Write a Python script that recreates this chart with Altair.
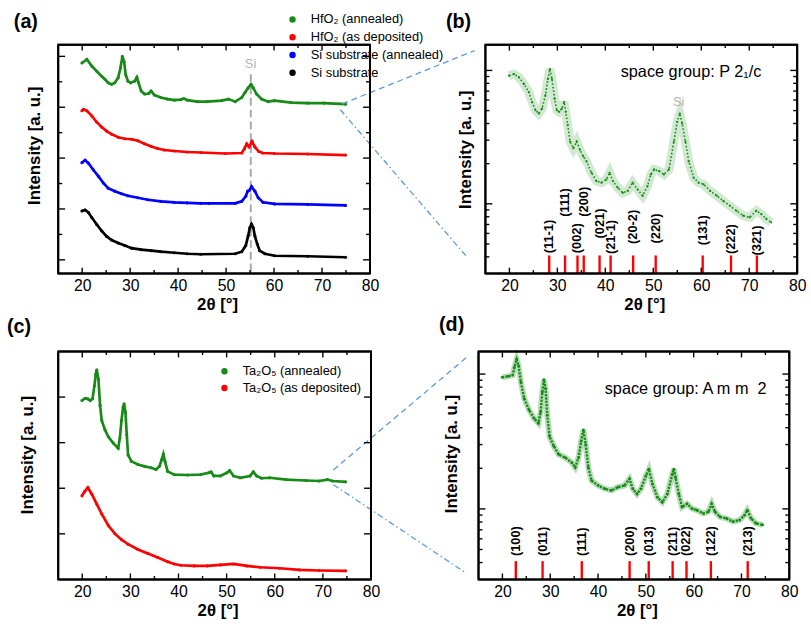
import math
import altair as alt
import pandas as pd

FONT = "Liberation Sans"
GREEN = "#178a17"
RED = "#ff0000"
BLUE = "#0000ff"
BLACK = "#000000"
CONN = "#5b9bd5"
GRAY = "#b4b4b4"

# ---------------- panel (a): HfO2 / Si, stacked linear intensities ----------------
A_GREEN_X = [19.94, 20.97, 22.0, 23.0, 24.06, 24.74, 25.43, 26.12, 26.8, 27.5, 27.97, 28.38, 28.73, 29.07,
             29.55, 30.1, 30.93, 31.4, 31.75, 32.3, 32.99, 33.88, 34.36, 35.05, 36.4, 37.8, 39.2, 40.55,
             41.2, 41.9, 44.0, 46.0, 49.1, 50.5, 51.9, 53.26, 53.95, 54.6, 55.2, 55.67, 56.35, 57.4, 58.76,
             60.1, 63.6, 67.0, 70.45, 74.9]
A_GREEN_Y = [3.87, 3.94, 3.81, 3.71, 3.61, 3.55, 3.48, 3.45, 3.48, 3.58, 3.77, 4.00, 3.90, 3.64,
             3.51, 3.48, 3.51, 3.59, 3.48, 3.32, 3.26, 3.27, 3.32, 3.24, 3.19, 3.16, 3.14, 3.15,
             3.17, 3.14, 3.11, 3.11, 3.13, 3.16, 3.11, 3.19, 3.29, 3.38, 3.45, 3.38, 3.26, 3.16, 3.11,
             3.13, 3.09, 3.08, 3.08, 3.06]
A_RED_X = [19.94, 20.3, 20.97, 22.0, 23.0, 24.06, 25.1, 26.12, 27.5, 28.9, 30.3, 31.6, 33.0, 34.4, 35.7,
           37.1, 39.2, 41.9, 44.7, 49.8, 53.26, 53.8, 54.3, 54.8, 55.4, 56.0, 56.8, 57.6, 60.1, 67.0, 74.9]
A_RED_Y = [2.93, 2.96, 2.93, 2.83, 2.71, 2.61, 2.53, 2.47, 2.41, 2.38, 2.37, 2.34, 2.28, 2.23, 2.19,
           2.16, 2.14, 2.12, 2.11, 2.09, 2.10, 2.18, 2.28, 2.22, 2.33, 2.22, 2.13, 2.10, 2.09, 2.08, 2.06]
A_BLUE_X = [19.94, 20.6, 21.3, 22.3, 23.4, 24.4, 25.4, 26.8, 28.2, 29.5, 31.6, 33.7, 36.4, 39.2, 41.9,
            44.7, 46.4, 51.9, 53.26, 54.1, 54.5, 54.9, 55.3, 56.0, 56.7, 57.7, 60.1, 67.0, 74.9]
A_BLUE_Y = [1.91, 1.96, 1.90, 1.77, 1.64, 1.51, 1.41, 1.35, 1.30, 1.26, 1.22, 1.18, 1.15, 1.13, 1.12,
            1.11, 1.11, 1.11, 1.15, 1.25, 1.35, 1.37, 1.44, 1.35, 1.22, 1.13, 1.10, 1.09, 1.07]
A_BLACK_X = [19.94, 20.6, 21.3, 22.0, 23.0, 24.06, 25.1, 26.12, 27.5, 28.9, 30.3, 32.3, 34.4, 36.4, 39.2,
             41.9, 44.7, 51.9, 53.26, 54.1, 54.6, 54.95, 55.3, 55.67, 56.0, 56.5, 57.0, 58.1, 60.1, 67.0, 74.9]
A_BLACK_Y = [0.96, 0.98, 0.93, 0.83, 0.70, 0.57, 0.46, 0.39, 0.33, 0.28, 0.23, 0.20, 0.18, 0.16, 0.14,
             0.12, 0.11, 0.12, 0.16, 0.28, 0.47, 0.63, 0.70, 0.63, 0.47, 0.31, 0.18, 0.12, 0.08, 0.07, 0.05]
A_NAMES = ["HfO\u2082 (annealed)", "HfO\u2082 (as deposited)", "Si substrate (annealed)", "Si substrate"]

# ---------------- panel (b): HfO2 annealed, log intensity ----------------
B_X = [19.93, 20.96, 21.99, 23.02, 24.05, 24.74, 25.43, 26.12, 26.8, 27.49, 28.04, 28.45, 28.87, 29.42,
       29.9, 30.38, 30.93, 31.41, 31.75, 32.16, 32.65, 33.33, 34.02, 34.71, 35.4, 36.08, 37.11, 38.14,
       39.18, 40.21, 40.89, 41.58, 42.61, 43.64, 44.67, 45.7, 46.74, 47.77, 48.8, 49.48, 50.17, 51.2,
       52.23, 53.26, 54.3, 54.98, 55.53, 56.01, 56.7, 57.39, 58.42, 59.45, 60.48, 61.86, 63.23, 64.6,
       65.98, 67.35, 68.73, 70.1, 71.48, 72.51, 73.54, 74.57]
B_Y = [9.13, 9.39, 8.87, 7.92, 6.87, 5.79, 5.03, 4.75, 5.17, 6.49, 8.63, 10.23, 8.63, 6.13,
       5.03, 4.89, 5.17, 5.79, 4.89, 3.89, 2.93, 2.61, 2.93, 2.54, 2.27, 2.08, 1.71, 1.48,
       1.44, 1.52, 1.71, 1.48, 1.32, 1.21, 1.25, 1.44, 1.28, 1.15, 1.36, 1.66, 1.81, 1.76,
       1.66, 1.81, 2.93, 4.12, 4.75, 4.00, 2.93, 2.08, 1.57, 1.44, 1.40, 1.25, 1.15, 1.05,
       0.967, 0.887, 0.815, 0.792, 0.887, 0.839, 0.77, 0.727]
B_HKL_POS = [28.3, 31.6, 34.2, 35.5, 38.8, 41.1, 45.8, 50.5, 60.3, 66.2, 71.6]
B_HKL_TXT = ["(11-1)", "(111)", "(002)", "(200)", "(021)", "(21-1)", "(20-2)", "(220)", "(131)", "(222)", "(321)"]
B_HKL_LABEL_Y = [0.426, 0.80, 0.426, 0.80, 0.55, 0.42, 0.50, 0.505, 0.49, 0.42, 0.41]

# ---------------- panel (c): Ta2O5, stacked linear intensities ----------------
C_GREEN_X = [19.93, 20.62, 21.16, 21.64, 22.12, 22.53, 22.81, 23.01, 23.36, 23.7, 24.04, 24.73, 25.41,
             26.44, 27.46, 27.81, 28.15, 28.49, 28.7, 28.97, 29.25, 29.52, 30.21, 31.57, 32.94, 34.31,
             35.34, 36.03, 36.51, 36.85, 37.19, 37.74, 39.11, 41.85, 44.59, 46.3, 46.78, 47.33, 48.7,
             50.07, 50.62, 51.44, 52.81, 54.86, 55.55, 56.23, 57.26, 58.97, 62.4, 66.5, 69.24, 70.96,
             71.99, 74.73]
C_GREEN_Y = [3.925, 3.975, 3.961, 3.925, 3.961, 4.25, 4.50, 4.60, 4.39, 3.82, 3.49, 3.28, 3.13,
             2.99, 2.88, 3.10, 3.49, 3.78, 3.85, 3.67, 3.17, 2.73, 2.59, 2.52, 2.48, 2.45,
             2.41, 2.48, 2.63, 2.75, 2.59, 2.37, 2.30, 2.29, 2.30, 2.34, 2.36, 2.27, 2.27,
             2.34, 2.39, 2.27, 2.23, 2.27, 2.36, 2.27, 2.22, 2.23, 2.19, 2.17, 2.16, 2.19,
             2.16, 2.14]
C_RED_X = [19.93, 20.48, 21.16, 21.99, 23.01, 24.04, 25.41, 26.78, 28.15, 29.52, 31.57, 33.63, 35.68,
           37.74, 39.11, 40.48, 43.22, 45.96, 48.7, 51.44, 54.18, 56.92, 61.03, 65.14, 69.24, 74.73]
C_RED_Y = [1.833, 1.926, 2.013, 1.869, 1.652, 1.436, 1.183, 1.003, 0.873, 0.772, 0.657, 0.570, 0.483,
           0.390, 0.339, 0.310, 0.296, 0.296, 0.318, 0.339, 0.296, 0.267, 0.245, 0.209, 0.195, 0.188]
C_NAMES = ["Ta\u2082O\u2085 (annealed)", "Ta\u2082O\u2085 (as deposited)"]

# ---------------- panel (d): Ta2O5 annealed, log intensity ----------------
D_X = [19.95, 21.12, 22.15, 22.5, 22.98, 23.39, 23.87, 24.56, 25.59, 26.62, 27.52, 28.0, 28.34, 28.69,
       29.03, 29.38, 29.86, 30.75, 31.78, 33.16, 34.54, 35.22, 35.91, 36.46, 36.94, 37.42, 37.97, 38.66,
       40.04, 41.41, 42.79, 44.16, 45.54, 46.57, 47.26, 48.15, 48.98, 50.01, 50.63, 51.39, 52.42, 53.45,
       54.48, 55.52, 55.86, 56.2, 56.89, 57.58, 58.61, 59.64, 60.68, 62.05, 63.08, 63.77, 64.46, 65.49,
       66.86, 68.24, 69.62, 70.65, 71.2, 72.02, 73.05, 74.43]
D_Y = [9.46, 9.62, 9.83, 11.19, 12.87, 11.5, 8.70, 6.57, 5.40, 4.69, 4.32, 5.25, 7.35, 9.09,
       7.77, 4.96, 3.45, 2.92, 2.53, 2.40, 2.20, 2.03, 2.40, 3.17, 3.86, 3.00, 2.03, 1.62,
       1.49, 1.41, 1.37, 1.45, 1.49, 1.67, 1.41, 1.29, 1.41, 1.76, 1.97, 1.53, 1.22, 1.12,
       1.29, 1.80, 1.97, 1.71, 1.29, 1.03, 1.09, 1.006, 0.978, 0.925, 0.951, 1.09, 0.951, 0.874,
       0.85, 0.804, 0.827, 0.899, 0.978, 0.85, 0.781, 0.76]
D_HKL_POS = [22.8, 28.4, 36.6, 46.6, 50.6, 55.6, 58.5, 63.6, 71.3]
D_HKL_TXT = ["(100)", "(011)", "(111)", "(200)", "(013)", "(211)", "(022)", "(122)", "(213)"]
D_HKL_LABEL_Y = [0.447] * 9

X_MAJOR = [20, 30, 40, 50, 60, 70, 80]
X_MINOR = [25, 35, 45, 55, 65, 75]
X_DOMAIN = [15, 80]

ONE = pd.DataFrame({"k": [0]})


def series_df(xs, ys, name):
    return pd.DataFrame({"tt": xs, "I": ys, "series": name})


def carrier(df, xsc, ysc, w, ytitle_xy, xtitle_y):
    """Invisible layer that carries the x tick labels and both axis titles."""
    return alt.Chart(df).mark_point(opacity=0, size=1).encode(
        x=alt.X("tt:Q", scale=xsc, axis=alt.Axis(
            orient="bottom", values=X_MAJOR, ticks=False, domain=False, grid=False,
            labelFontSize=16, labelPadding=4, labelFlush=False, labelOverlap=False,
            labelColor="black", labelFont=FONT,
            title="2\u03b8 [\u00b0]", titleFont=FONT, titleFontSize=17, titleFontWeight="bold",
            titleColor="black", titleX=w / 2 + 3, titleY=xtitle_y, titleAlign="center",
            titleBaseline="middle")),
        y=alt.Y("I:Q", scale=ysc, axis=alt.Axis(
            orient="left", labels=False, ticks=False, domain=False, grid=False,
            title="Intensity [a. u.]", titleFont=FONT, titleFontSize=17, titleFontWeight="bold",
            titleColor="black", titleAngle=270, titleX=ytitle_xy[0], titleY=ytitle_xy[1],
            titleAlign="center", titleBaseline="middle")))


def value_at(ydom, h, px, log):
    """Data value lying px pixels above the bottom of a panel of height h."""
    lo, hi = ydom
    if log:
        return 10 ** (math.log10(lo) + (math.log10(hi) - math.log10(lo)) * px / h)
    return lo + (hi - lo) * px / h


def tick_marks(xsc, ysc, ydom, log, w, h, ymaj, ymin):
    """Inward ticks on all four sides plus the box frame, all placed through the panel's scales."""
    out = []
    ylo, yhi = ydom
    for vals, ln in ((X_MAJOR, 6), (X_MINOR, 3.5)):
        d = pd.DataFrame({"v": vals * 2,
                          "y1": [ylo] * len(vals) + [yhi] * len(vals),
                          "y2": [value_at(ydom, h, ln, log)] * len(vals)
                                + [value_at(ydom, h, h - ln, log)] * len(vals)})
        out.append(alt.Chart(d).mark_rule(color="black", strokeWidth=1.4, clip=False).encode(
            x=alt.X("v:Q", scale=xsc, axis=None), y=alt.Y("y1:Q", scale=ysc, axis=None), y2="y2:Q"))
    for vals, ln in ((ymaj, 7), (ymin, 4)):
        if not vals:
            continue
        d = pd.DataFrame({"v": vals})
        for x0, x1 in ((0, ln), (w, w - ln)):
            out.append(alt.Chart(d).mark_rule(color="black", strokeWidth=1.4).encode(
                y=alt.Y("v:Q", scale=ysc, axis=None), x=alt.value(x0), x2=alt.value(x1)))
    xlo, xhi = X_DOMAIN
    box = pd.DataFrame({"x1": [xlo], "x2": [xhi], "y1": [ylo], "y2": [yhi]})
    out.append(alt.Chart(box).mark_rect(filled=False, color="black", strokeWidth=2, clip=False).encode(
        x=alt.X("x1:Q", scale=xsc, axis=None), x2="x2:Q",
        y=alt.Y("y1:Q", scale=ysc, axis=None), y2="y2:Q"))
    vert = pd.DataFrame({"x": [xlo, xhi], "y1": [ylo, ylo], "y2": [yhi, yhi]})
    out.append(alt.Chart(vert).mark_rule(color="black", strokeWidth=2, clip=False).encode(
        x=alt.X("x:Q", scale=xsc, axis=None), y=alt.Y("y1:Q", scale=ysc, axis=None), y2="y2:Q"))
    horiz = pd.DataFrame({"y": [ylo, yhi], "x1": [xlo, xlo], "x2": [xhi, xhi]})
    out.append(alt.Chart(horiz).mark_rule(color="black", strokeWidth=2, clip=False).encode(
        y=alt.Y("y:Q", scale=ysc, axis=None), x=alt.X("x1:Q", scale=xsc, axis=None), x2="x2:Q"))
    return out


def panel_label(txt, dx, dy):
    return alt.Chart(ONE).mark_text(text=txt, fontSize=20, fontWeight="bold", font=FONT, align="left",
                                    baseline="middle", color="black").encode(x=alt.value(dx), y=alt.value(dy))


def connector(x1, y1, x2, y2, dash):
    return alt.Chart(ONE).mark_rule(color=CONN, strokeWidth=1.3, strokeDash=dash).encode(
        x=alt.value(x1), y=alt.value(y1), x2=alt.value(x2), y2=alt.value(y2))


def layout_anchor(xpos, ytop, ybot):
    # invisible guide that fixes how far each row reaches to the left / top / bottom
    return alt.Chart(ONE).mark_rule(opacity=0, strokeWidth=1).encode(
        x=alt.value(xpos), x2=alt.value(xpos), y=alt.value(ytop), y2=alt.value(ybot))


def series_lines(xs_list, ys_list, colors, xsc, ysc, width):
    out = []
    for xs, ys, c in zip(xs_list, ys_list, colors):
        out.append(alt.Chart(series_df(xs, ys, c)).mark_line(color=c, strokeWidth=width).encode(
            x=alt.X("tt:Q", scale=xsc, axis=None), y=alt.Y("I:Q", scale=ysc, axis=None)))
    return out


leg_common = dict(orient="none", title=None, labelFontSize=13, labelFont=FONT, labelColor="black",
                  symbolSize=42, symbolType="circle", labelOffset=12, padding=0, symbolStrokeWidth=0)

# ---------- panel (a) ----------
WA, HA = 316, 232
YA_DOM = [-0.27, 4.23]
xa = alt.Scale(domain=X_DOMAIN, nice=False, zero=False)
ya = alt.Scale(domain=YA_DOM, nice=False, zero=False)
dfa = pd.concat([series_df(A_GREEN_X, A_GREEN_Y, A_NAMES[0]), series_df(A_RED_X, A_RED_Y, A_NAMES[1]),
                 series_df(A_BLUE_X, A_BLUE_Y, A_NAMES[2]), series_df(A_BLACK_X, A_BLACK_Y, A_NAMES[3])])
col_a = alt.Scale(domain=A_NAMES, range=[GREEN, RED, BLUE, BLACK])
a_lines = series_lines([A_GREEN_X, A_RED_X, A_BLUE_X, A_BLACK_X], [A_GREEN_Y, A_RED_Y, A_BLUE_Y, A_BLACK_Y],
                       [GREEN, RED, BLUE, BLACK], xa, ya, 2.7)
a_pts = alt.Chart(dfa).mark_circle(size=10, opacity=1).encode(
    x=alt.X("tt:Q", scale=xa, axis=None), y=alt.Y("I:Q", scale=ya, axis=None),
    color=alt.Color("series:N", scale=col_a,
                    legend=alt.Legend(legendX=231, legendY=-32, rowPadding=4, **leg_common)))
SI_LINE = pd.DataFrame({"tt": [55.15], "top": [3.65], "bot": [YA_DOM[0]]})
a_si = alt.Chart(SI_LINE).mark_rule(color="#aaaaaa", strokeWidth=2, strokeDash=[8, 4]).encode(
    x=alt.X("tt:Q", scale=xa, axis=None), y=alt.Y("top:Q", scale=ya, axis=None), y2="bot:Q")
SI_A = pd.DataFrame({"tt": [55.1], "I": [3.84], "t": ["Si"]})
a_si_txt = alt.Chart(SI_A).mark_text(fontSize=13, font=FONT, color=GRAY, baseline="middle").encode(
    x=alt.X("tt:Q", scale=xa, axis=None), y=alt.Y("I:Q", scale=ya, axis=None), text="t:N")
pa = alt.layer(
    carrier(dfa, xa, ya, WA, (-24, 102), 31),
    a_si, *a_lines, a_pts, a_si_txt,
    connector(288, 60, 422, 6, [6, 4]), connector(286, 66, 415, 216, [6, 3, 1.5, 3]),
    panel_label("(a)", -45, -22.5),
    layout_anchor(-61, -44, HA + 41),
    *tick_marks(xa, ya, YA_DOM, False, WA, HA, [0, 1, 2, 3, 4], [0.5, 1.5, 2.5, 3.5]),
).resolve_axis(x="independent", y="independent").properties(width=WA, height=HA)

# ---------- panel (b) ----------
WB, HB = 316, 232
YB_DOM = [0.3, 15.6]
xb = alt.Scale(domain=X_DOMAIN, nice=False, zero=False)
yb = alt.Scale(type="log", domain=YB_DOM, nice=False)
dfb = series_df(B_X, B_Y, "b")
b_band = alt.Chart(dfb).mark_line(color=GREEN, strokeWidth=9, opacity=0.2).encode(
    x=alt.X("tt:Q", scale=xb, axis=None), y=alt.Y("I:Q", scale=yb, axis=None))
b_line = alt.Chart(dfb).mark_line(color=GREEN, strokeWidth=1.6, strokeDash=[1.6, 2.0]).encode(
    x=alt.X("tt:Q", scale=xb, axis=None), y=alt.Y("I:Q", scale=yb, axis=None))
b_pts = alt.Chart(dfb).mark_circle(color=GREEN, size=5, opacity=1).encode(
    x=alt.X("tt:Q", scale=xb, axis=None), y=alt.Y("I:Q", scale=yb, axis=None))
HKL_B = pd.DataFrame({"tt": B_HKL_POS, "t": B_HKL_TXT, "ly": B_HKL_LABEL_Y, "lo": YB_DOM[0], "hi": 0.41})
b_rules = alt.Chart(HKL_B).mark_rule(color=RED, strokeWidth=2.4).encode(
    x=alt.X("tt:Q", scale=xb, axis=None), y=alt.Y("lo:Q", scale=yb, axis=None), y2="hi:Q")
b_hkl = alt.Chart(HKL_B).mark_text(angle=270, align="left", baseline="middle", fontSize=13,
                                   fontWeight="bold", font=FONT, color="black").encode(
    x=alt.X("tt:Q", scale=xb, axis=None), y=alt.Y("ly:Q", scale=yb, axis=None), text="t:N")
ANN_B = pd.DataFrame({"tt": [43.2], "I": [9.67], "t": ["space group: P 2\u2081/c"]})
b_sg = alt.Chart(ANN_B).mark_text(align="left", baseline="middle", fontSize=16.5, font=FONT,
                                  color="black").encode(
    x=alt.X("tt:Q", scale=xb, axis=None), y=alt.Y("I:Q", scale=yb, axis=None), text="t:N")
SI_B = pd.DataFrame({"tt": [55.3], "I": [5.8], "t": ["Si"]})
b_si = alt.Chart(SI_B).mark_text(fontSize=13, font=FONT, color=GRAY, baseline="middle").encode(
    x=alt.X("tt:Q", scale=xb, axis=None), y=alt.Y("I:Q", scale=yb, axis=None), text="t:N")
LOG_MAJ = [1, 10]
LOG_MIN = [0.4, 0.5, 0.6, 0.7, 0.8, 0.9, 2, 3, 4, 5, 6, 7, 8, 9]
pb = alt.layer(
    carrier(dfb, xb, yb, WB, (-20.5, 106), 31),
    b_band, b_line, b_pts, b_rules, b_hkl, b_sg, b_si,
    panel_label("(b)", -40, -23),
    *tick_marks(xb, yb, YB_DOM, True, WB, HB, LOG_MAJ, LOG_MIN),
).resolve_axis(x="independent", y="independent").properties(width=WB, height=HB)

# ---------- panel (c) ----------
WC, HC = 317, 231
YC_DOM = [0, 5]
xc = alt.Scale(domain=X_DOMAIN, nice=False, zero=False)
yc = alt.Scale(domain=YC_DOM, nice=False, zero=False)
dfc = pd.concat([series_df(C_GREEN_X, C_GREEN_Y, C_NAMES[0]), series_df(C_RED_X, C_RED_Y, C_NAMES[1])])
col_c = alt.Scale(domain=C_NAMES, range=[GREEN, RED])
c_lines = series_lines([C_GREEN_X, C_RED_X], [C_GREEN_Y, C_RED_Y], [GREEN, RED], xc, yc, 2.7)
c_pts = alt.Chart(dfc).mark_circle(size=10, opacity=1).encode(
    x=alt.X("tt:Q", scale=xc, axis=None), y=alt.Y("I:Q", scale=yc, axis=None),
    color=alt.Color("series:N", scale=col_c,
                    legend=alt.Legend(legendX=162, legendY=13.5, rowPadding=3, **leg_common)))
pc = alt.layer(
    carrier(dfc, xc, yc, WC, (-31, 104.5), 32),
    *c_lines, c_pts,
    connector(279, 120, 415, 5, [6, 4]), connector(279, 135, 414, 225, [6, 3, 1.5, 3]),
    panel_label("(c)", -52, -25),
    layout_anchor(-68, -38, HC + 42),
    *tick_marks(xc, yc, YC_DOM, False, WC, HC, [1, 2, 3, 4], []),
).resolve_axis(x="independent", y="independent").properties(width=WC, height=HC)

# ---------- panel (d) ----------
WD, HD = 315, 231
YD_DOM = [0.3, 14.7]
xd = alt.Scale(domain=X_DOMAIN, nice=False, zero=False)
yd = alt.Scale(type="log", domain=YD_DOM, nice=False)
dfd = series_df(D_X, D_Y, "d")
d_band = alt.Chart(dfd).mark_line(color=GREEN, strokeWidth=6, opacity=0.3).encode(
    x=alt.X("tt:Q", scale=xd, axis=None), y=alt.Y("I:Q", scale=yd, axis=None))
d_line = alt.Chart(dfd).mark_line(color=GREEN, strokeWidth=2.4, strokeDash=[2.2, 1.2]).encode(
    x=alt.X("tt:Q", scale=xd, axis=None), y=alt.Y("I:Q", scale=yd, axis=None))
d_pts = alt.Chart(dfd).mark_circle(color=GREEN, size=8, opacity=1).encode(
    x=alt.X("tt:Q", scale=xd, axis=None), y=alt.Y("I:Q", scale=yd, axis=None))
HKL_D = pd.DataFrame({"tt": D_HKL_POS, "t": D_HKL_TXT, "ly": D_HKL_LABEL_Y, "lo": YD_DOM[0], "hi": 0.41})
d_rules = alt.Chart(HKL_D).mark_rule(color=RED, strokeWidth=2.4).encode(
    x=alt.X("tt:Q", scale=xd, axis=None), y=alt.Y("lo:Q", scale=yd, axis=None), y2="hi:Q")
d_hkl = alt.Chart(HKL_D).mark_text(angle=270, align="left", baseline="middle", fontSize=13,
                                   fontWeight="bold", font=FONT, color="black").encode(
    x=alt.X("tt:Q", scale=xd, axis=None), y=alt.Y("ly:Q", scale=yd, axis=None), text="t:N")
ANN_D = pd.DataFrame({"tt": [41.4], "I": [7.77], "t": ["space group: A m m\u00a0 2"]})
d_sg = alt.Chart(ANN_D).mark_text(align="left", baseline="middle", fontSize=16.5, font=FONT,
                                  color="black").encode(
    x=alt.X("tt:Q", scale=xd, axis=None), y=alt.Y("I:Q", scale=yd, axis=None), text="t:N")
pdd = alt.layer(
    carrier(dfd, xd, yd, WD, (-27.5, 103.5), 32),
    d_band, d_line, d_pts, d_rules, d_hkl, d_sg,
    panel_label("(d)", -40, -27),
    *tick_marks(xd, yd, YD_DOM, True, WD, HD, LOG_MAJ, LOG_MIN),
).resolve_axis(x="independent", y="independent").properties(width=WD, height=HD)

top = alt.hconcat(pa, pb, spacing=117, bounds="flush").resolve_scale(color="independent")
bot = alt.hconcat(pc, pdd, spacing=109, bounds="flush").resolve_scale(color="independent")
chart = alt.vconcat(top, bot, spacing=0, bounds="full").resolve_scale(color="independent").properties(
    padding={"left": -9, "top": -3, "right": 5, "bottom": 5}
).configure(font=FONT).configure_view(stroke=None)

chart.save("out.html", embed_options={"renderer": "svg", "actions": False})
